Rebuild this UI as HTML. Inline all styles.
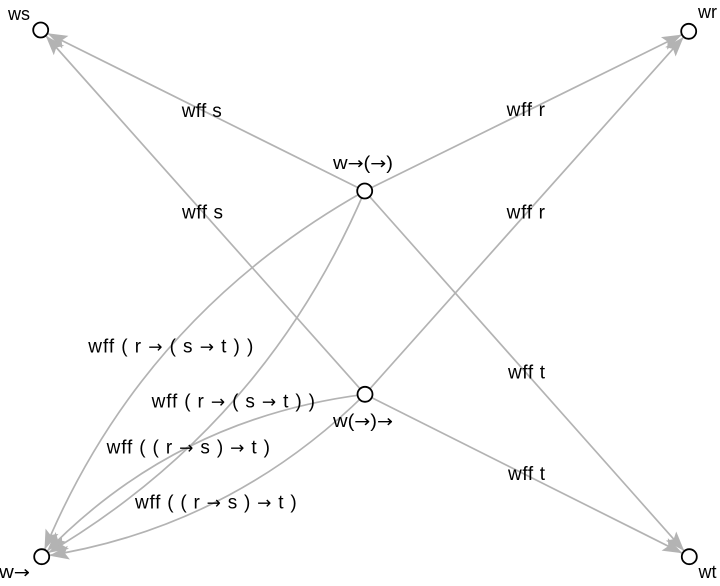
<!DOCTYPE html>
<html>
<head>
<meta charset="utf-8">
<style>
html,body{margin:0;padding:0;background:#fff;}
svg{display:block;}
text{font-family:"Liberation Sans","DejaVu Sans",sans-serif;font-size:18px;fill:#000;}
.e{font-size:19px;}
.a{font-family:"DejaVu Sans","Liberation Sans",sans-serif;font-size:17px;}
</style>
</head>
<body>
<svg width="720" height="586" viewBox="0 0 720 586" xmlns="http://www.w3.org/2000/svg">
<rect width="720" height="586" fill="#fff"/>
<g stroke="#b3b3b3" stroke-width="1.7" fill="none">
  <line x1="364.7" y1="191" x2="40.7" y2="30"/>
  <line x1="365" y1="394.3" x2="40.7" y2="30"/>
  <line x1="364.7" y1="191" x2="688.7" y2="31.3"/>
  <line x1="365" y1="394.3" x2="688.7" y2="31.3"/>
  <line x1="364.7" y1="191" x2="689.3" y2="556.7"/>
  <line x1="365" y1="394.3" x2="689.3" y2="556.7"/>
  <path d="M364.7,191 Q138.4,318.15 41.7,556.7"/>
  <path d="M364.7,191 Q263.4,428.15 41.7,556.7"/>
  <path d="M365,394.3 Q173.25,418.5 41.7,556.7"/>
  <path d="M365,394.3 Q228.25,528.5 41.7,556.7"/>
</g>
<g fill="#b3b3b3">
  <polygon points="0,0 -20,-7 -16,0 -20,7" transform="translate(47.4,33.3) rotate(-153.6)"/>
  <polygon points="0,0 -20,-7 -16,0 -20,7" transform="translate(45.7,35.6) rotate(-131.7)"/>
  <polygon points="0,0 -20,-7 -16,0 -20,7" transform="translate(682.0,34.6) rotate(-26.2)"/>
  <polygon points="0,0 -20,-7 -16,0 -20,7" transform="translate(683.7,36.9) rotate(-48.3)"/>
  <polygon points="0,0 -20,-7 -16,0 -20,7" transform="translate(684.3,551.1) rotate(48.4)"/>
  <polygon points="0,0 -20,-7 -16,0 -20,7" transform="translate(682.6,553.3) rotate(26.6)"/>
  <polygon points="0,0 -20,-7 -16,0 -20,7" transform="translate(44.5,549.8) rotate(112.1)"/>
  <polygon points="0,0 -20,-7 -16,0 -20,7" transform="translate(48.2,552.9) rotate(149.9)"/>
  <polygon points="0,0 -20,-7 -16,0 -20,7" transform="translate(46.9,551.3) rotate(133.6)"/>
  <polygon points="0,0 -20,-7 -16,0 -20,7" transform="translate(49.1,555.6) rotate(171.4)"/>
</g>
<g fill="#fff" stroke="#000" stroke-width="1.8">
  <circle cx="40.7" cy="30" r="7.5"/>
  <circle cx="688.7" cy="31.3" r="7.5"/>
  <circle cx="689.3" cy="556.7" r="7.5"/>
  <circle cx="41.7" cy="556.7" r="7.5"/>
  <circle cx="364.7" cy="191" r="7.5"/>
  <circle cx="365" cy="394.3" r="7.5"/>
</g>
<g text-anchor="middle">
  <text x="19" y="20">ws</text>
  <text x="707.5" y="18">wr</text>
  <text x="707.5" y="578">wt</text>
  <text x="14.5" y="578" textLength="31" lengthAdjust="spacingAndGlyphs">w<tspan class="a">→</tspan></text>
  <text x="363" y="169" textLength="60" lengthAdjust="spacingAndGlyphs">w<tspan class="a">→</tspan>(<tspan class="a">→</tspan>)</text>
  <text x="363" y="427" textLength="60" lengthAdjust="spacingAndGlyphs">w(<tspan class="a">→</tspan>)<tspan class="a">→</tspan></text>
  <text class="e" x="201.7" y="117" textLength="40" lengthAdjust="spacing">wff s</text>
  <text class="e" x="202.5" y="218.3" textLength="41" lengthAdjust="spacing">wff s</text>
  <text class="e" x="525.8" y="116" textLength="38.3" lengthAdjust="spacing">wff r</text>
  <text class="e" x="525.8" y="218.3" textLength="38.3" lengthAdjust="spacing">wff r</text>
  <text class="e" x="526.5" y="378.3" textLength="37" lengthAdjust="spacing">wff t</text>
  <text class="e" x="526.5" y="480" textLength="37" lengthAdjust="spacing">wff t</text>
  <text class="e" x="170.8" y="352.3" textLength="165" lengthAdjust="spacing">wff ( r <tspan class="a">→</tspan> ( s <tspan class="a">→</tspan> t ) )</text>
  <text class="e" x="233.3" y="407.5" textLength="163.3" lengthAdjust="spacing">wff ( r <tspan class="a">→</tspan> ( s <tspan class="a">→</tspan> t ) )</text>
  <text class="e" x="188.3" y="453.3" textLength="163.3" lengthAdjust="spacing">wff ( ( r <tspan class="a">→</tspan> s ) <tspan class="a">→</tspan> t )</text>
  <text class="e" x="215.8" y="508.3" textLength="161.7" lengthAdjust="spacing">wff ( ( r <tspan class="a">→</tspan> s ) <tspan class="a">→</tspan> t )</text>
</g>
</svg>
</body>
</html>
